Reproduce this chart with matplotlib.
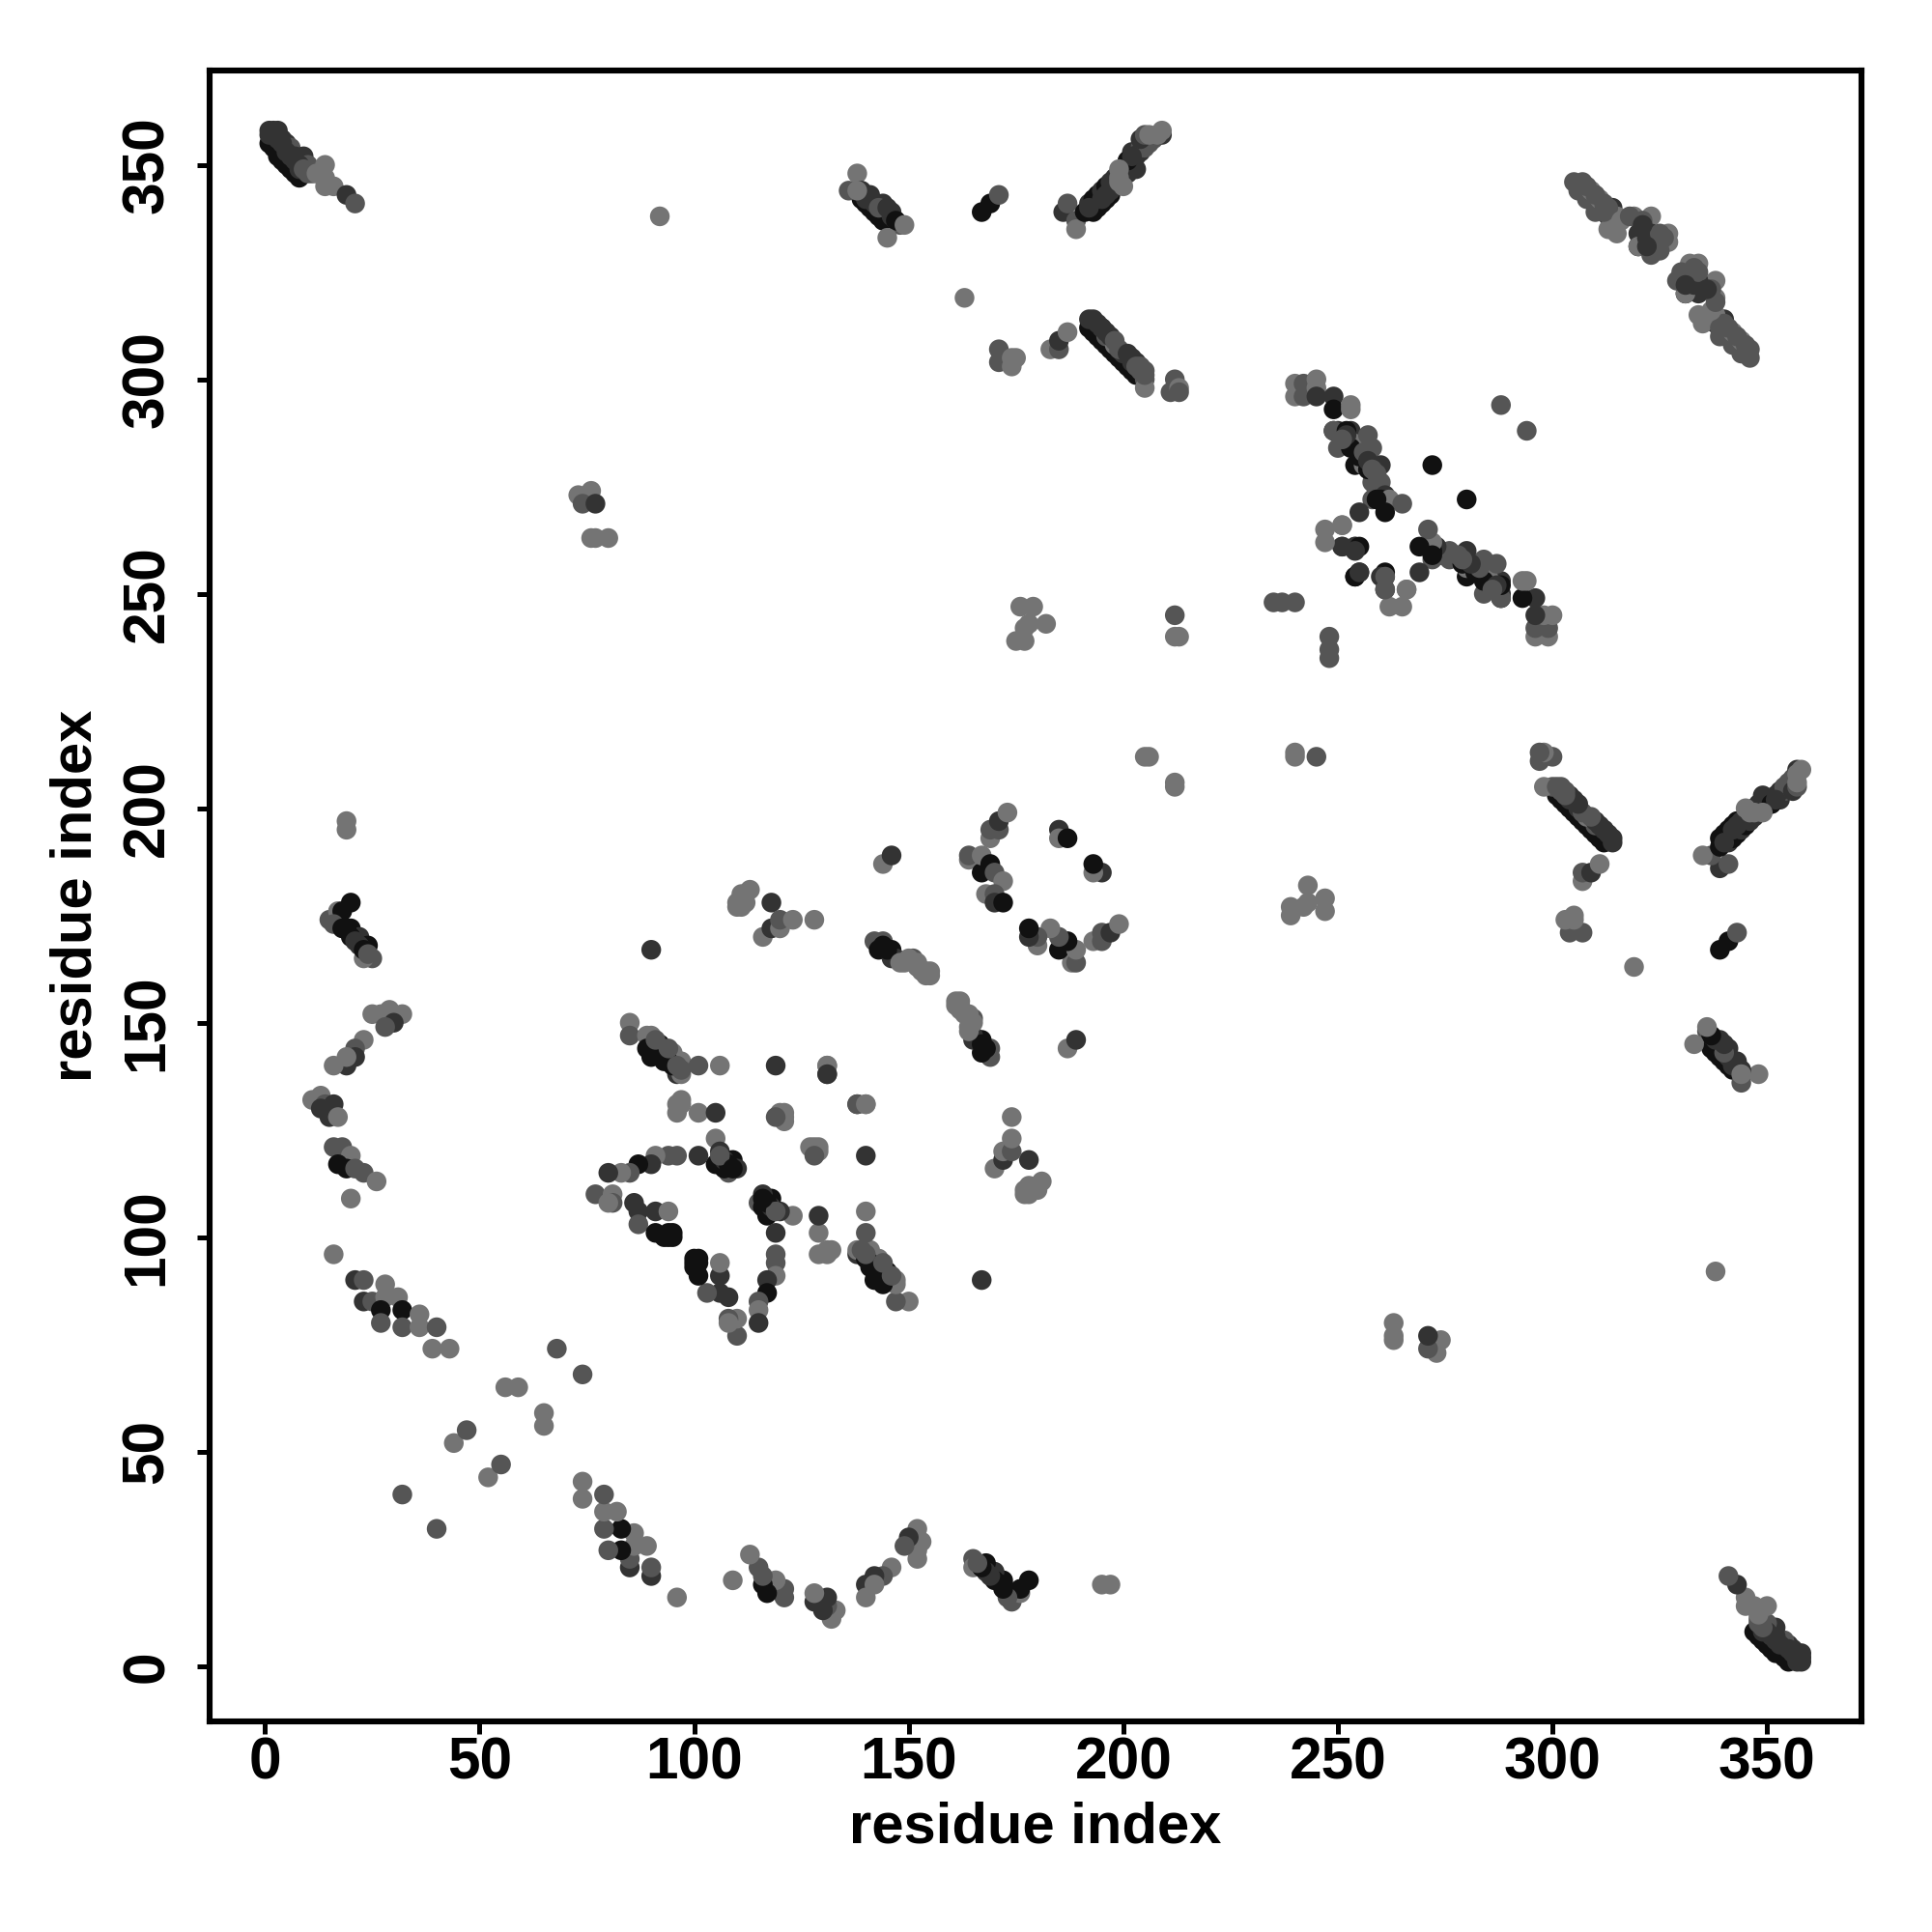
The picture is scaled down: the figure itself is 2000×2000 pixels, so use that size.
import matplotlib
matplotlib.use("Agg")
import matplotlib.pyplot as plt

# contact pairs (i < j), one row per cluster; level: 0 black .. 3 light grey
res_i = [
    1,2,3,4,5,6,7,8, 1,2,3,1,4,5,6,7,9,10,
    3,4,5,6,7,8,8,9,10,11,
    12,14,14,14,16,19,21,
    92, 73,76,74,77,76,77,80,
    139,140,141,142,143,144,138,136,138,141,144,146,
    139,140,142,143,145,146,147,148,
    147,149,138,145,
    167,169,171, 186,187,189,189,
    191,193,194,195,196,197,192,193,194,195,196,197,198,199,200,201,202,204,
    192,195,196,197,198,200,201,202,203,204,205,206,207,203,201,202,204,
    199,200,199,205,209,209,199,206,208,
    163, 171,171,174,175,174, 183,185,185,187,
    192,193,194,195,196,197,198,199,200,201,202,203,192,193,195,196,198,200,202,204,205,205,
    194,195,196,197,198,199,201,202,203,204,205,205,203,
    211,212,213,213,
    305,306,307,308,309,310,311,314,313,315,313,315,319,323,320,323,327,327,320,320,324,323,
    308,310,312,313,312,316,318,321,322,325,326,325,321,322,
    240,240,242,242,245,245,245,249,249,249,253,253,
    250,253,249,250,254,253,254,257,258,256,260,258,260,257,
    252,252,251,255,256,257,258,259,259,261,
    258,260,262,265,259,261,255,
    247,251,251,254,255,254,
    272,288,
    251,261,254,261,247,255,
    235,237,240,
    212,212,213,205,206,
    176,179,175,177,178,182,177,
    19,19, 15,17,17,19,21,20,18,20,22,24,25,23,
    16,18,19,20,21,22,23,24,
    25,27,29,32,30,28,23,21,21,19,19,16,
    11,13,14,16,13,15,17,
    16,18,20,17,19,21,23,26,20,
    16,21,23,28,23,25,28,31,27,32,27,32,36,36,40,39,43,
    32,44,47,56,59,68,
    85,85,89,90,89,90,92,93,95,97,96,97,101,106,119,131,131,
    91,92,93,94,95,96,91,94,97,
    97,96,101,105,120,121,138,140,
    96,97,120,121,121,119,
    105,106,105,108,109,110,101,96,94,91,90,87,85,83,80,
    106,107,107,108,106,109,
    77,81,81,80,
    86,87,91,94,87,91,94, 94,95,95,93,
    90, 110,112,110,111,113, 111,112,111, 118,116,118,120,120,123,128,
    144,146, 169,169,171,171,173,
    164,164,167,167,169,170,172,168,170,170,172, 185,185,187,
    142,144,143,146,146,147,151,152,154,155,154,155, 145,144,148,149,150,152,153,
]
res_j = [
    355,354,352,351,350,349,348,347, 358,358,358,357,356,355,354,352,352,350,
    356,355,353,352,351,350,349,349,348,348,
    348,350,347,345,345,343,341,
    338, 273,274,271,271,263,263,263,
    342,341,340,339,338,337,344,344,348,343,341,339,
    344,342,341,340,340,338,337,336,
    337,336,344,333,
    339,341,343, 339,341,337,335,
    339,339,340,341,342,343,341,342,343,344,345,346,347,348,349,351,353,354,
    340,342,343,344,345,347,348,350,352,353,354,355,356,349,351,352,356,
    346,345,347,357,357,358,349,357,357,
    319, 307,304,305,305,303, 307,307,309,311,
    312,311,310,309,308,307,306,305,304,303,302,301,314,314,312,310,308,306,304,302,300,298,
    313,312,311,310,309,307,306,305,304,303,302,301,303,
    297,300,298,297,
    346,344,346,342,344,339,342,340,338,338,335,334,338,338,334,334,334,332,331,331,330,329,
    345,343,341,340,339,337,338,337,333,334,333,330,336,331,
    299,296,299,296,300,298,296,296,293,288,294,293,
    288,288,288,284,285,284,280,287,284,280,280,276,276,279,
    288,287,286,282,283,281,279,278,274,273,
    272,272,272,271,272,269,269,
    265,266,261,261,261,260,
    280,294,
    266,251,254,254,262,255,
    248,248,248,
    245,240,240,212,212,
    247,247,239,239,243,243,242,
    197,195, 174,173,176,172,170,178,176,172,170,168,165,165,
    173,172,172,170,169,168,167,166,
    152,152,153,152,150,149,146,144,142,140,142,140,
    132,133,131,131,130,128,128,
    121,121,119,117,116,116,115,113,109,
    96,90,90,89,85,85,86,86,83,83,80,79,82,79,79,74,74,
    40,52,55,65,65,74,
    150,147,147,147,144,142,145,141,143,141,138,138,140,140,140,140,138,
    145,143,142,141,140,140,146,144,139,
    132,129,129,129,129,127,131,131,
    131,131,128,128,129,128,
    123,120,117,115,118,116,119,119,119,119,117,117,115,115,115,
    118,116,118,117,119,116,
    110,110,108,108,
    108,106,106,106,103,101,101, 100,101,100,100,
    167, 177,180,178,179,181, 177,178,180, 178,170,172,172,174,174,174,
    187,189, 193,195,195,197,199,
    188,189,185,189,187,185,183,180,180,178,178, 195,193,193,
    169,169,167,167,165,165,165,164,162,162,161,161, 167,168,164,164,165,163,162,
]
contact_level = [
    0,0,0,0,0,0,0,0, 1,1,1,1,1,1,2,1,1,2,
    1,1,1,1,1,1,1,2,2,2,
    3,3,3,3,3,1,2,
    3, 3,3,2,1,3,3,3,
    0,0,0,0,0,0,1,2,3,1,1,1,
    1,1,1,2,1,1,1,2,
    0,3,3,3,
    0,0,2, 1,2,2,3,
    0,0,0,0,0,0,1,0,0,1,0,1,1,1,1,1,1,2,
    1,1,1,1,1,1,1,0,1,1,2,2,2,1,0,1,1,
    3,3,3,2,1,3,3,3,3,
    3, 2,2,3,3,3, 3,2,1,3,
    0,0,0,0,0,0,0,0,0,0,0,0,1,1,1,2,3,1,1,2,2,3,
    1,1,1,1,2,2,1,1,1,2,2,2,2,
    2,2,3,2,
    2,2,2,2,3,2,3,1,1,3,3,3,3,3,1,1,3,3,0,3,1,2,
    2,2,2,2,2,3,2,2,1,2,2,2,1,1,
    3,3,2,2,3,3,1,1,0,0,3,3,
    1,1,2,2,3,0,0,2,2,3,1,2,2,0,
    0,1,2,0,2,1,2,2,2,1,
    2,0,3,2,0,0,1,
    3,3,1,1,0,1,
    0,2,
    3,2,0,2,3,1,
    2,2,2,
    2,3,3,3,3,
    3,3,3,3,3,3,3,
    3,3, 2,2,3,2,1,0,0,0,1,0,2,3,
    2,0,0,0,1,1,0,2,
    3,3,3,3,1,2,3,2,1,1,3,3,
    3,3,2,1,1,1,3,
    2,2,3,0,0,2,2,3,3,
    3,1,2,3,1,2,3,3,0,0,2,2,3,3,2,3,3,
    2,3,2,3,3,2,
    3,2,3,3,0,0,0,0,3,3,1,3,2,3,1,3,1,
    0,0,0,0,0,2,2,2,2,
    3,3,3,1,3,3,2,3,
    3,3,3,3,3,2,
    3,1,0,2,0,1,1,2,2,3,1,0,2,3,1,
    0,0,1,0,2,0,
    2,3,2,3,
    1,1,1,3,2,0,0, 0,0,0,0,
    1, 3,3,3,3,3, 3,3,3, 1,3,1,3,2,3,3,
    3,1, 3,2,2,1,3,
    3,2,0,3,0,2,3,3,2,1,0, 1,3,0,
    2,2,0,0,1,1,2,3,3,3,3,3, 0,0,3,3,3,3,3,
]
gray_levels = ["#111111", "#333333", "#555555", "#747474"]
tick_values = [0, 50, 100, 150, 200, 250, 300, 350]

plt.rcParams["font.family"] = ["Liberation Sans", "DejaVu Sans"]
plt.rcParams["font.weight"] = "bold"

fig = plt.figure(figsize=(10, 10), dpi=200)
ax = fig.add_axes([217/2000, 1-1782/2000, (1927-217)/2000, (1782-73)/2000])

colors = [gray_levels[c] for c in contact_level]
# the map is symmetric, draw both triangles
ax.scatter(res_j, res_i, s=54, c=colors, linewidths=0, zorder=2)
ax.scatter(res_i, res_j, s=54, c=colors, linewidths=0, zorder=3)

ax.set_xlim(-12.9, 372)
ax.set_ylim(-12.9, 372)
ax.set_xticks(tick_values)
ax.set_yticks(tick_values)
ax.tick_params(axis="x", length=4.6, width=1.8, labelsize=21.8, pad=0.8)
ax.tick_params(axis="y", length=4.6, width=1.8, labelsize=21.8, pad=8)
for lab in ax.get_yticklabels():
    lab.set_rotation(90)
    lab.set_va("center")
for s in ax.spines.values():
    s.set_linewidth(2.2)
ax.set_xlabel("residue index", fontsize=21.5, fontweight="bold", va="center")
ax.set_ylabel("residue index", fontsize=21.5, fontweight="bold", va="center")
ax.xaxis.set_label_coords(0.5, -0.0644)
ax.yaxis.set_label_coords(-0.0807, 0.5)

plt.savefig("out.png", dpi=200)
